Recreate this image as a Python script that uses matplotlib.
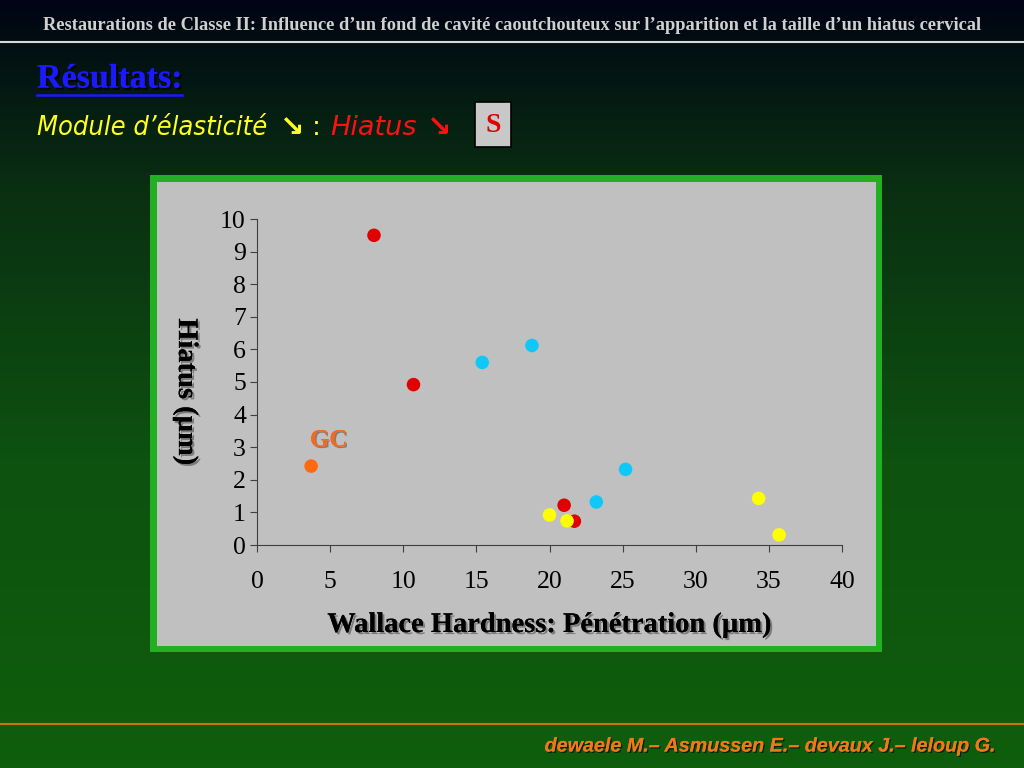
import numpy as np
import matplotlib
matplotlib.use("Agg")
import matplotlib.pyplot as plt
import matplotlib.patheffects as pe
from matplotlib.colors import LinearSegmentedColormap
from matplotlib.patches import Rectangle

# data: penetration (um) vs hiatus (um), one list per colour group
red_x = [8.0, 10.7, 21.0, 21.7]
red_y = [9.5, 4.92, 1.22, 0.73]
cyan_x = [15.4, 18.8, 23.2, 25.2]
cyan_y = [5.6, 6.12, 1.32, 2.32]
yellow_x = [20.0, 21.2, 34.3, 35.7]
yellow_y = [0.92, 0.74, 1.43, 0.31]
gc_x = [3.7]
gc_y = [2.42]

x_ticks = [0, 5, 10, 15, 20, 25, 30, 35, 40]
y_ticks = [0, 1, 2, 3, 4, 5, 6, 7, 8, 9, 10]

fig = plt.figure(figsize=(10.24, 7.68), dpi=100)

# slide background: dark navy at top fading to green
bg = fig.add_axes([0, 0, 1, 1])
bg.set_axis_off()
cmap = LinearSegmentedColormap.from_list(
    "slide", [(0.0, "#000414"), (0.06, "#021012"), (0.25, "#0a3012"),
              (0.6, "#0d5210"), (1.0, "#0f5e0c")])
grad = np.linspace(0, 1, 256).reshape(-1, 1)
bg.imshow(grad, aspect="auto", cmap=cmap, extent=[0, 1, 0, 1], origin="upper")
bg.set_xlim(0, 1)
bg.set_ylim(0, 1)

# header bar and lines
bg.plot([0, 1], [1 - 42 / 768] * 2, color="#d8d8d8", lw=1.5)
bg.plot([0, 1], [1 - 724 / 768] * 2, color="#d07010", lw=1.5)

fig.text(0.5, 1 - 25 / 768, "Restaurations de Classe II: Influence d\u2019un fond de cavit\u00e9 caoutchouteux sur l\u2019apparition et la taille d\u2019un hiatus cervical",
         ha="center", va="center", color="#d0d0d0", fontsize=13.2,
         family="Liberation Serif", weight="bold", stretch="condensed")

shadow = [pe.withSimplePatchShadow(offset=(1.5, -1.5), shadow_rgbFace="black", alpha=0.8), pe.Normal()]

fig.text(37 / 1024, 1 - 79 / 768, "R\u00e9sultats:", ha="left", va="center",
         color="#1a1aff", fontsize=24.5, family="Liberation Serif", weight="bold",
         path_effects=shadow)
bg.plot([37 / 1024, 182 / 1024], [1 - 95 / 768] * 2, color="#1a1aff", lw=1.8)

y_sub = 1 - 128 / 768
fig.text(37 / 1024, y_sub, "Module d\u2019\u00e9lasticit\u00e9", ha="left", va="center",
         color="#ffff20", fontsize=19.5, family="DejaVu Sans", style="italic",
         weight="light", stretch="condensed")
fig.text(280 / 1024, y_sub, "\u2198", ha="left", va="center", color="#ffff20",
         fontsize=21, family="DejaVu Sans", weight="bold")
fig.text(312 / 1024, y_sub, ":", ha="left", va="center", color="#ffff20",
         fontsize=19, family="DejaVu Sans")
fig.text(330 / 1024, y_sub, "Hiatus", ha="left", va="center", color="#ff1010",
         fontsize=19.5, family="DejaVu Sans", style="italic")
fig.text(427 / 1024, y_sub, "\u2198", ha="left", va="center", color="#ff1010",
         fontsize=21, family="DejaVu Sans", weight="bold")

# the little S box
bg.add_patch(Rectangle((475 / 1024, 1 - 147 / 768), 36 / 1024, 45 / 768,
                       facecolor="#c8c8c8", edgecolor="black", lw=1.2))
fig.text(493 / 1024, 1 - 126 / 768, "S", ha="center", va="center", color="#e00000",
         fontsize=20, family="Liberation Serif", weight="bold")

# chart frame: green border with light grey inside
bg.add_patch(Rectangle((150 / 1024, 1 - 652 / 768), 732 / 1024, 477 / 768,
                       facecolor="#22b022", edgecolor="none"))
bg.add_patch(Rectangle((157 / 1024, 1 - 646 / 768), 719 / 1024, 464 / 768,
                       facecolor="#c0c0c0", edgecolor="none"))

ax = fig.add_axes([257 / 1024, 1 - 545 / 768, 585 / 1024, 326 / 768])
ax.patch.set_alpha(0)
ax.scatter(red_x, red_y, s=95, color="#e00000", zorder=3, edgecolors="none")
ax.scatter(cyan_x, cyan_y, s=95, color="#10c8f8", zorder=3, edgecolors="none")
ax.scatter(yellow_x, yellow_y, s=95, color="#ffff00", zorder=3, edgecolors="none")
ax.scatter(gc_x, gc_y, s=95, color="#ff6a10", zorder=3, edgecolors="none")
ax.text(gc_x[0] + 1.2, gc_y[0] + 0.8, "GC", ha="center", va="center", color="#f06a20",
        fontsize=18, family="Liberation Serif", weight="bold",
        path_effects=[pe.withSimplePatchShadow(offset=(1, -1), shadow_rgbFace="#606060", alpha=0.7), pe.Normal()])

ax.set_xlim(0, 40)
ax.set_ylim(0, 10)
ax.set_xticks(x_ticks)
ax.set_yticks(y_ticks)
ax.spines["top"].set_visible(False)
ax.spines["right"].set_visible(False)
ax.spines["left"].set_color("#404040")
ax.spines["bottom"].set_color("#404040")
ax.tick_params(direction="out", length=5, color="#404040", labelsize=18.5, pad=3)
for lab in ax.get_xticklabels() + ax.get_yticklabels():
    lab.set_family("Liberation Serif")
ax.tick_params(axis="x", pad=14)

lab_shadow = [pe.withSimplePatchShadow(offset=(1.5, -1.5), shadow_rgbFace="#505050", alpha=0.6), pe.Normal()]
ax.set_xlabel("Wallace Hardness: P\u00e9n\u00e9tration (\u00b5m)", fontsize=20.5,
              family="Liberation Serif", weight="bold", color="black",
              labelpad=14, path_effects=lab_shadow)
ax.set_ylabel("Hiatus (\u00b5m)", fontsize=20.5, family="Liberation Serif", weight="bold",
              color="black", rotation=-90, labelpad=34, path_effects=lab_shadow)
ax.yaxis.label.set_y(0.47)

fig.text(997 / 1024, 1 - 746 / 768, "dewaele M.\u2013 Asmussen E.\u2013 devaux J.\u2013 leloup G.",
         ha="right", va="center", color="#f07818", fontsize=14.2, family="Liberation Sans",
         weight="bold", style="italic",
         path_effects=[pe.withSimplePatchShadow(offset=(1, -1), shadow_rgbFace="black", alpha=0.6), pe.Normal()])

fig.savefig("out.png", dpi=100)
